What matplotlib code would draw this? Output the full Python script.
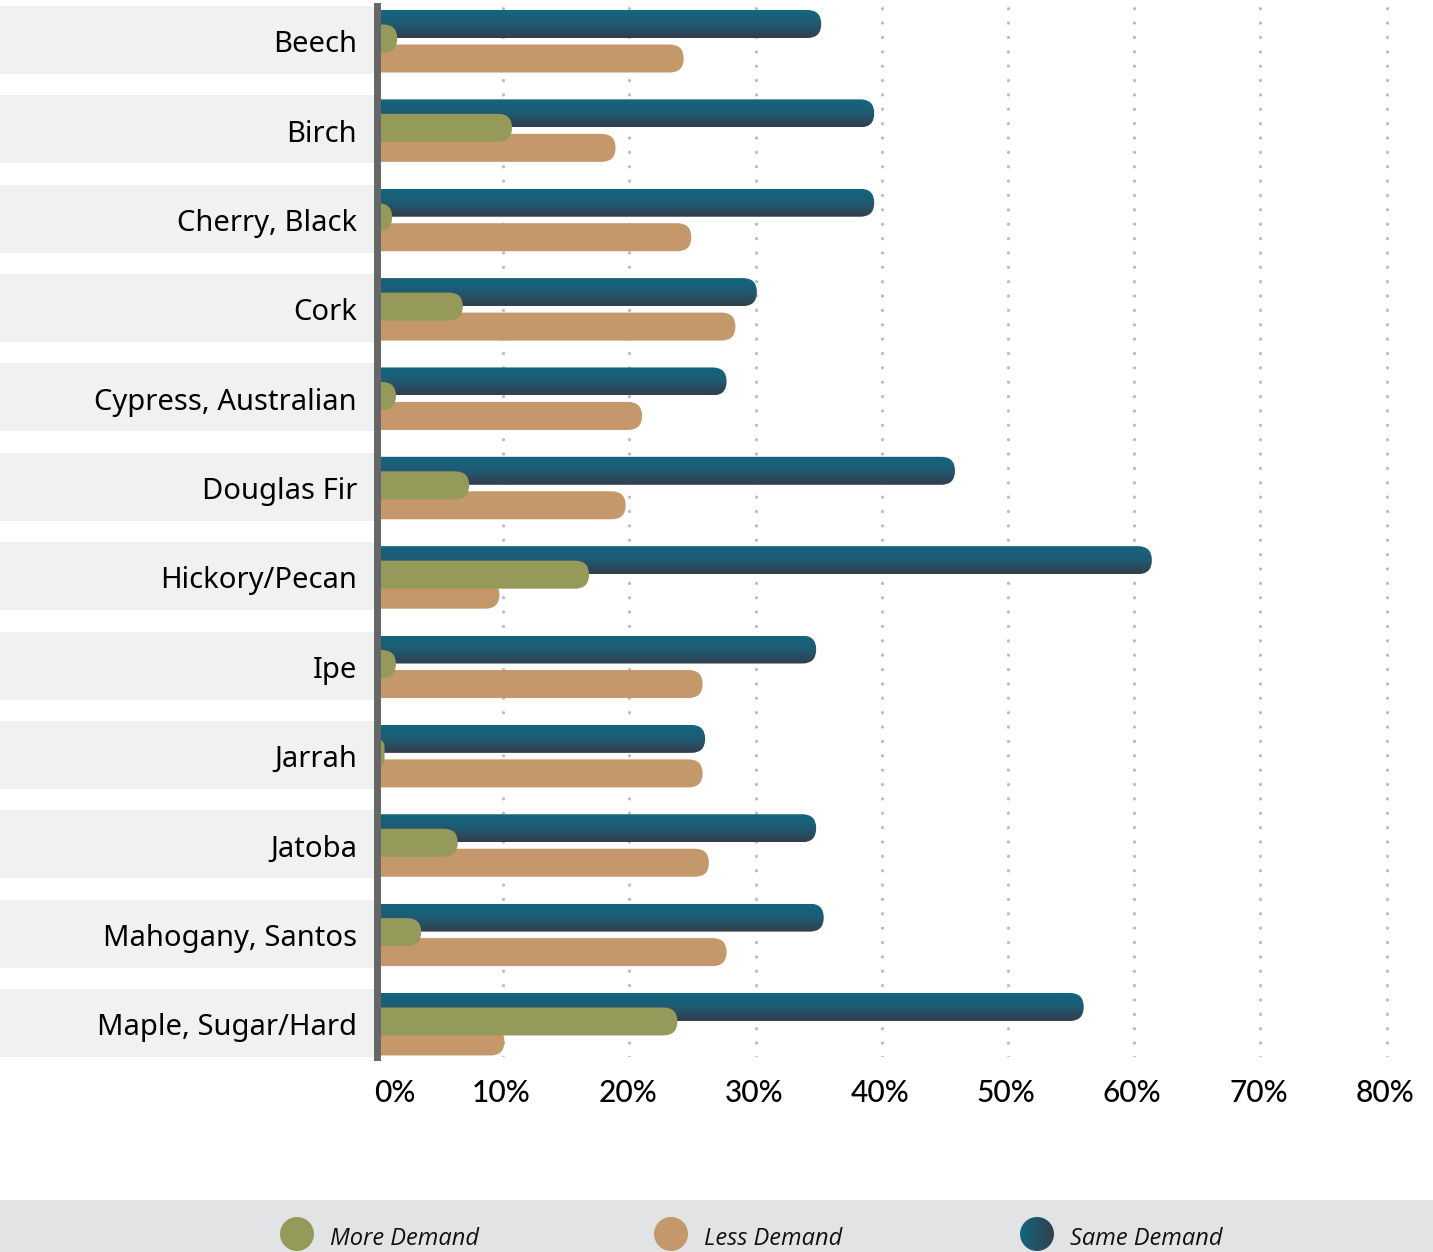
import numpy as np
import matplotlib
matplotlib.use("Agg")
import matplotlib.pyplot as plt
from matplotlib.patches import FancyBboxPatch, Rectangle, Circle
from matplotlib.colors import LinearSegmentedColormap
import matplotlib.transforms as mtransforms

# ---------------- data ----------------
categories = ["Beech", "Birch", "Cherry, Black", "Cork", "Cypress, Australian",
              "Douglas Fir", "Hickory/Pecan", "Ipe", "Jarrah", "Jatoba",
              "Mahogany, Santos", "Maple, Sugar/Hard"]
same_demand = [35.2, 39.4, 39.4, 30.1, 27.7, 45.8, 61.4, 34.8, 26.0, 34.8, 35.4, 56.0]
more_demand = [1.6, 10.7, 1.2, 6.8, 1.5, 7.3, 16.8, 1.5, 0.6, 6.4, 3.5, 23.8]
less_demand = [24.3, 18.9, 24.9, 28.4, 21.0, 19.7, 9.7, 25.8, 25.8, 26.3, 27.7, 10.1]
tick_values = [0, 10, 20, 30, 40, 50, 60, 70, 80]
tick_labels = ["0%", "10%", "20%", "30%", "40%", "50%", "60%", "70%", "80%"]
legend_labels = ["More Demand", "Less Demand", "Same Demand"]

# ---------------- style ----------------
GREEN = "#959a5a"
TAN = "#c4986a"
BLUE_TOP = "#13667f"
BLUE_BOT = "#333e4c"
PANEL = "#f0f2f1"
AXIS = "#666666"
GRID = "#bdbdbd"
LEGEND_BG = "#e1e3e4"
blue_cmap = LinearSegmentedColormap.from_list("bl", [BLUE_TOP, "#1f5a72", BLUE_BOT])

W, H = 1433, 1252
fig = plt.figure(figsize=(W / 100, H / 100), dpi=100)
fig.patch.set_facecolor("white")

ax_left_px, ax_right_px = 377.0, 1433.0
ax_top_px, ax_bot_px = 6.0, 1057.0
px_per_pct = 12.62
row_px = 89.36
first_center = 40.0

ax = fig.add_axes([ax_left_px / W, 1 - ax_bot_px / H,
                   (ax_right_px - ax_left_px) / W, (ax_bot_px - ax_top_px) / H])
ax.patch.set_alpha(0)
xmax = (ax_right_px - ax_left_px) / px_per_pct
ytop = (ax_top_px - first_center) / row_px
ybot = (ax_bot_px - first_center) / row_px

ux = 1.0 / px_per_pct
uy = 1.0 / row_px
bar_h = 28 * uy
R = 14 * ux
m_aspect = uy / ux
off_blue, off_green, off_tan = -16 * uy, -1.5 * uy, 18.5 * uy

blend_fig_data = mtransforms.blended_transform_factory(fig.transFigure, ax.transData)

# left label panels
for i, name in enumerate(categories):
    ax.add_patch(Rectangle((0, i - 34 * uy), ax_left_px / W, 68 * uy,
                           transform=blend_fig_data, facecolor=PANEL,
                           edgecolor="none", clip_on=False, zorder=0))
    ax.text(357 / W, i + 12.3 * uy, name, transform=blend_fig_data,
            ha="right", va="baseline", fontsize=21, family="Noto Sans",
            fontweight="medium", color="black")


def rounded_bar(v, yc, **kw):
    r = min(R, max(v, 0.05))
    p = FancyBboxPatch((-r, yc - bar_h / 2), v + r, bar_h,
                       boxstyle=f"round,pad=0,rounding_size={r}",
                       mutation_aspect=m_aspect, linewidth=0, **kw)
    ax.add_patch(p)
    return p


grad = np.linspace(0, 1, 256).reshape(-1, 1)
for i in range(len(categories)):
    # same demand (gradient)
    yc = i + off_blue
    p = rounded_bar(same_demand[i], yc, facecolor="none", edgecolor="none", zorder=2)
    im = ax.imshow(grad, cmap=blue_cmap, aspect="auto", origin="upper",
                   extent=(-R, same_demand[i] + 0.1, yc + bar_h / 2, yc - bar_h / 2),
                   interpolation="bilinear", zorder=2)
    im.set_clip_path(p)
    # less demand
    rounded_bar(less_demand[i], i + off_tan, facecolor=TAN, zorder=3)
    # more demand
    rounded_bar(more_demand[i], i + off_green, facecolor=GREEN, zorder=4)

ax.set_xlim(0, xmax)
ax.set_ylim(ybot, ytop)
ax.set_yticks([])
ax.set_xticks(tick_values[1:])
ax.tick_params(axis="x", length=0, labelbottom=False)
ax.grid(axis="x", color=GRID, linewidth=2.4, linestyle=(0, (0.01, 4.3)),
        dash_capstyle="round")
ax.set_axisbelow(True)
for s in ["top", "right", "bottom"]:
    ax.spines[s].set_visible(False)
ax.spines["left"].set_color(AXIS)
ax.spines["left"].set_linewidth(5)
ax.spines["left"].set_zorder(10)

# tick labels
blend_data_fig = mtransforms.blended_transform_factory(ax.transData, fig.transFigure)
for v, lab in zip(tick_values, tick_labels):
    t = blend_data_fig
    if v == 0:
        t = blend_data_fig + mtransforms.ScaledTranslation(0.20, 0, fig.dpi_scale_trans)
    ax.text(v - 0.15, 1 - 1102 / H, lab, transform=t, ha="center", va="baseline",
            fontsize=21.5, family="Lato", fontweight="medium", color="black", clip_on=False)

# legend band
lax = fig.add_axes([0, 0, 1, 52 / H])
lax.set_xlim(0, W)
lax.set_ylim(0, 52)
lax.axis("off")
lax.add_patch(Rectangle((0, 0), W, 52, facecolor=LEGEND_BG, edgecolor="none", zorder=0))
leg_x = [297, 671, 1037]
leg_cols = [GREEN, TAN, None]
for x, lab, c in zip(leg_x, legend_labels, leg_cols):
    if c is None:
        circ = Circle((x, 18), 17, facecolor="none", edgecolor="none", zorder=1)
        lax.add_patch(circ)
        hg = np.linspace(0, 1, 256).reshape(1, -1)
        im = lax.imshow(hg, cmap=LinearSegmentedColormap.from_list("h", [BLUE_TOP, BLUE_BOT]),
                        extent=(x - 17, x + 17, 1, 35), aspect="auto", zorder=1)
        im.set_clip_path(circ)
    else:
        lax.add_patch(Circle((x, 18), 17, facecolor=c, edgecolor="none", zorder=1))
    lax.text(x + 33, 7, lab, ha="left", va="baseline", fontsize=17,
             family="Open Sans", style="italic", color="#111111")
lax.set_xlim(0, W)
lax.set_ylim(0, 52)

fig.savefig("out.png", dpi=100)
